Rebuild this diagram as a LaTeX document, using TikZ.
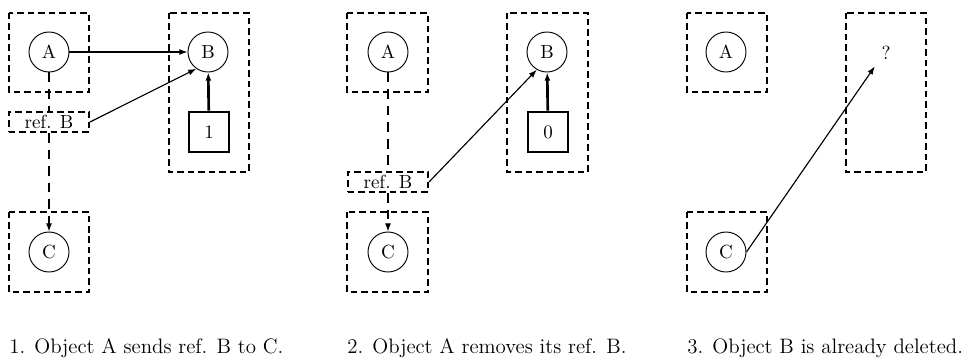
\documentclass[tikz,border=0pt]{standalone}
\usepackage{tikz}
\usetikzlibrary{arrows.meta, positioning}

\begin{document}
\begin{tikzpicture}[x=0.0185cm, y=-0.0185cm, >={Latex[length=1.5mm,width=1.1mm]},
    obj/.style={draw, circle, line width=0.5pt, minimum size=0.74cm, inner sep=0pt},
    objbox/.style={line width=1.05pt, dash pattern=on 3.4pt off 2.1pt},
    refbox/.style={draw, objbox, minimum width=1.48cm, minimum height=0.37cm, inner sep=0pt},
    counter/.style={draw, line width=1.4pt, minimum size=0.74cm, inner sep=0pt},
    link/.style={line width=0.6pt, dash pattern=on 5.2pt off 3.5pt},
    caption/.style={anchor=base west, inner sep=0pt, font=\fontsize{11}{13}\selectfont}]
    \useasboundingbox (0,0) rectangle (972,360);

    % 1. A sends ref. B to C
    \draw[objbox] (9,13) rectangle (89,92);
    \draw[objbox] (169,13) rectangle (249,172);
    \draw[objbox] (9,212) rectangle (89,292);
    \node[obj] (A1) at (49,52) {A};
    \node[obj] (B1) at (208,52) {B};
    \node[obj] (C1) at (49,252) {C};
    \node[counter] (n1) at (209,132) {1};
    \node[refbox] (r1) at (49,122) {ref. B};

    \draw[line width=0.6pt, ->] (A1) -- (B1);
    \draw[line width=0.6pt, ->] (r1.east) -- (B1.235);
    \draw[line width=1.4pt, ->] (n1) -- (B1);
    \draw[link] (A1) -- (r1);
    \draw[link, ->] (r1) -- (C1);
    \node[caption] (cap1) at (9,353) {1. Object A sends ref. B to C.};

    % 2. A drops its own ref. B
    \draw[objbox] (347,13) rectangle (428,92);
    \draw[objbox] (507,13) rectangle (588,172);
    \draw[objbox] (347,212) rectangle (428,292);
    \node[obj] (A2) at (388,52) {A};
    \node[obj] (B2) at (547,52) {B};
    \node[obj] (C2) at (388,252) {C};
    \node[counter] (n2) at (548,132) {0};
    \node[refbox] (r2) at (388,182) {ref. B};

    \draw[line width=0.6pt, ->] (r2.east) -- (B2.240);
    \draw[line width=1.4pt, ->] (n2) -- (B2);
    \draw[link] (A2) -- (r2);
    \draw[link, ->] (r2) -- (C2);
    \node[caption] (cap2) at (347,353) {2. Object A removes its ref. B.};

    % 3. B is gone, C still points there
    \draw[objbox] (687,13) rectangle (767,92);
    \draw[objbox] (846,13) rectangle (926,172);
    \draw[objbox] (687,212) rectangle (767,292);
    \node[obj] (A3) at (726,52) {A};
    \node[obj] (C3) at (726,252) {C};
    \node (q3) at (886,53) {?};

    \draw[line width=0.6pt, ->] (C3.east) -- (q3.south west);
    \node[caption] (cap3) at (687,353) {3. Object B is already deleted.};
\end{tikzpicture}
\end{document}
